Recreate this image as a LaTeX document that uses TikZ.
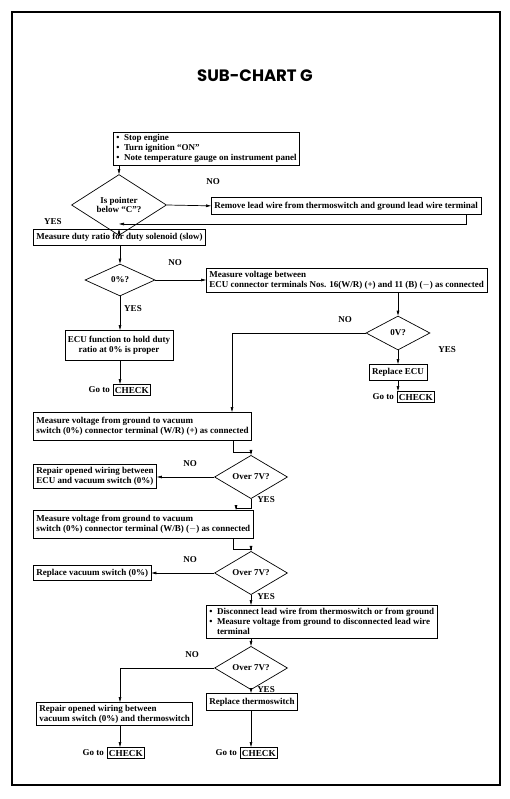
\documentclass[tikz,border=0pt]{standalone}
\usepackage{fontspec}
\setmainfont{Liberation Serif}
\newfontfamily\titlefont{Poppins}
\usepackage{tikz}
\usetikzlibrary{arrows.meta, positioning, shapes.geometric}

\begin{document}
\begin{tikzpicture}[
    x=1pt, y=-1pt,
    stepbox/.style={rectangle, draw, line width=0.7pt, inner xsep=3pt, inner ysep=1.5pt, anchor=north west, align=left, font=\fontsize{9}{10}\selectfont\bfseries},
    decision/.style={diamond, draw, line width=0.7pt, inner sep=0pt, align=center, font=\fontsize{9}{9.8}\selectfont\bfseries},
    checkbox/.style={rectangle, draw, line width=0.9pt, inner xsep=1.5pt, inner ysep=2.5pt, anchor=north west, font=\fontsize{9.2}{9.5}\selectfont\bfseries},
    answer/.style={inner sep=0pt, font=\fontsize{9}{9.5}\selectfont\bfseries},
    arrow/.style={-{Triangle[length=5pt, width=2.6pt]}, line width=0.7pt}
]
    \useasboundingbox (0,0) rectangle (510,799);
    \draw[line width=1.5pt] (12,12) rectangle (500,785);
    \draw[line width=2.5pt] (500,12) -- (500,785);

    \node[font=\titlefont\fontsize{16.5}{18}\selectfont\bfseries] (title) at (255,76) {SUB-CHART G};

    % boxes
    \node[stepbox, minimum height=33pt] (start) at (113,132)
        {\textbullet~~Stop engine\\ \textbullet~~Turn ignition ``ON''\\ \textbullet~~Note temperature gauge on instrument panel};
    \node[decision, minimum width=95pt, minimum height=39pt] (d1) at (119,205) {Is pointer\\below ``C''?};
    \node[stepbox, minimum height=17pt] (remove) at (211,197)
        {Remove lead wire from thermoswitch and ground lead wire terminal};
    \coordinate (j1) at (119,224);
    \node[stepbox, minimum height=16pt] (duty) at (33,229)
        {Measure duty ratio for duty solenoid (slow)};
    \node[decision, minimum width=70pt, minimum height=32pt] (d2) at (120,280) {0\%?};
    \node[stepbox, minimum height=24pt] (ecuv) at (206,268)
        {Measure voltage between\\ ECU connector terminals Nos. 16(W/R) (+) and 11 (B) ($-$) as connected};
    \node[stepbox, anchor=north, align=center, minimum height=30pt] (ecuok) at (119,330)
        {ECU function to hold duty\\ ratio at 0\% is proper};
    \node[checkbox] (check1) at (113,384) {CHECK};
    \node[answer, left=3pt of check1] (goto1) {Go to};

    \node[decision, minimum width=64pt, minimum height=34pt] (d3) at (398,333) {0V?};
    \node[stepbox, anchor=north, minimum height=16pt] (repecu) at (398,364) {Replace ECU};
    \node[checkbox] (check2) at (397,391) {CHECK};
    \node[answer, left=3pt of check2] (goto2) {Go to};

    \node[stepbox, minimum height=28pt] (vsw1) at (33,412)
        {Measure voltage from ground to vacuum\\ switch (0\%) connector terminal (W/R) (+) as connected};
    \node[decision, minimum width=73pt, minimum height=34pt] (d4) at (251,477) {Over 7V?};
    \node[stepbox, minimum height=24pt] (wire1) at (33,464)
        {Repair opened wiring between\\ ECU and vacuum switch (0\%)};
    \node[stepbox, minimum height=28pt] (vsw2) at (33,510)
        {Measure voltage from ground to vacuum\\ switch (0\%) connector terminal (W/B) ($-$) as connected};
    \node[decision, minimum width=73pt, minimum height=34pt] (d5) at (251,573) {Over 7V?};
    \node[stepbox, minimum height=15pt] (repvs) at (33,565) {Replace vacuum switch (0\%)};
    \node[stepbox, minimum height=33pt] (disc) at (206,605)
        {\textbullet~~Disconnect lead wire from thermoswitch or from ground\\
         \textbullet~~Measure voltage from ground to disconnected lead wire\\
         \phantom{\textbullet~~}terminal};
    \node[decision, minimum width=73pt, minimum height=34pt] (d6) at (251,668) {Over 7V?};
    \node[stepbox, minimum height=23pt] (wire2) at (36,702)
        {Repair opened wiring between\\ vacuum switch (0\%) and thermoswitch};
    \node[stepbox, minimum height=17pt] (repth) at (206,693) {Replace thermoswitch};
    \node[checkbox] (check3) at (107,747) {CHECK};
    \node[answer, left=3pt of check3] (goto3) {Go to};
    \node[checkbox] (check4) at (240,747) {CHECK};
    \node[answer, left=3pt of check4] (goto4) {Go to};

    % answers
    \node[answer] (no1) at (213,182) {NO};
    \node[answer] (yes1) at (53,222) {YES};
    \node[answer] (no2) at (175,263) {NO};
    \node[answer] (yes2) at (133,309) {YES};
    \node[answer] (no3) at (345,320) {NO};
    \node[answer] (yes3) at (447,350) {YES};
    \node[answer] (no4) at (190,464) {NO};
    \node[answer] (yes4) at (266,500) {YES};
    \node[answer] (no5) at (190,560) {NO};
    \node[answer] (yes5) at (266,597) {YES};
    \node[answer] (no6) at (192,655) {NO};
    \node[answer] (yes6) at (266,690) {YES};

    % bends
    \coordinate (b1) at (466,0);
    \coordinate (b2) at (232,0);
    \coordinate (b3) at (233,0);
    \coordinate (b4) at (236,0);

    % connectors
    \draw[arrow] (d1.north |- start.south) -- (d1.north);
    \draw[arrow] (d1.east) -- (remove.west);
    \draw[arrow] (b1 |- remove.south) |- (j1);
    \draw[arrow] (d1.south) -- (d1.south |- duty.north);
    \draw[arrow] (d2.north |- duty.south) -- (d2.north);
    \draw[arrow] (d2.east) -- (d2.east -| ecuv.west);
    \draw[arrow] (d2.south) -- (d2.south |- ecuok.north);
    \draw[arrow] (d2.south |- ecuok.south) -- (d2.south |- check1.north);
    \draw[arrow] (d3.north |- ecuv.south) -- (d3.north);
    \draw[arrow] (d3.west) -| (b2 |- vsw1.north);
    \draw[arrow] (d3.south) -- (repecu.north);
    \draw[arrow] (repecu.south) -- (repecu.south |- check2.north);
    \draw[arrow] (b3 |- vsw1.south) -- ++(0,12) -| (d4.north);
    \draw[arrow] (d4.west) -- (d4.west -| wire1.east);
    \draw[arrow] (d4.south) -- ++(0,9) -| (b4 |- vsw2.north);
    \draw[arrow] (b3 |- vsw2.south) -- ++(0,11) -| (d5.north);
    \draw[arrow] (d5.west) -- (d5.west -| repvs.east);
    \draw[arrow] (d5.south) -- (d5.south |- disc.north);
    \draw[arrow] (d6.north |- disc.south) -- (d6.north);
    \draw[arrow] (d6.west) -| (d2.south |- wire2.north);
    \draw[arrow] (d6.south) -- (d6.south |- repth.north);
    \draw[arrow] (d2.south |- wire2.south) -- (d2.south |- check3.north);
    \draw[arrow] (d6.south |- repth.south) -- (d6.south |- check4.north);
\end{tikzpicture}
\end{document}
